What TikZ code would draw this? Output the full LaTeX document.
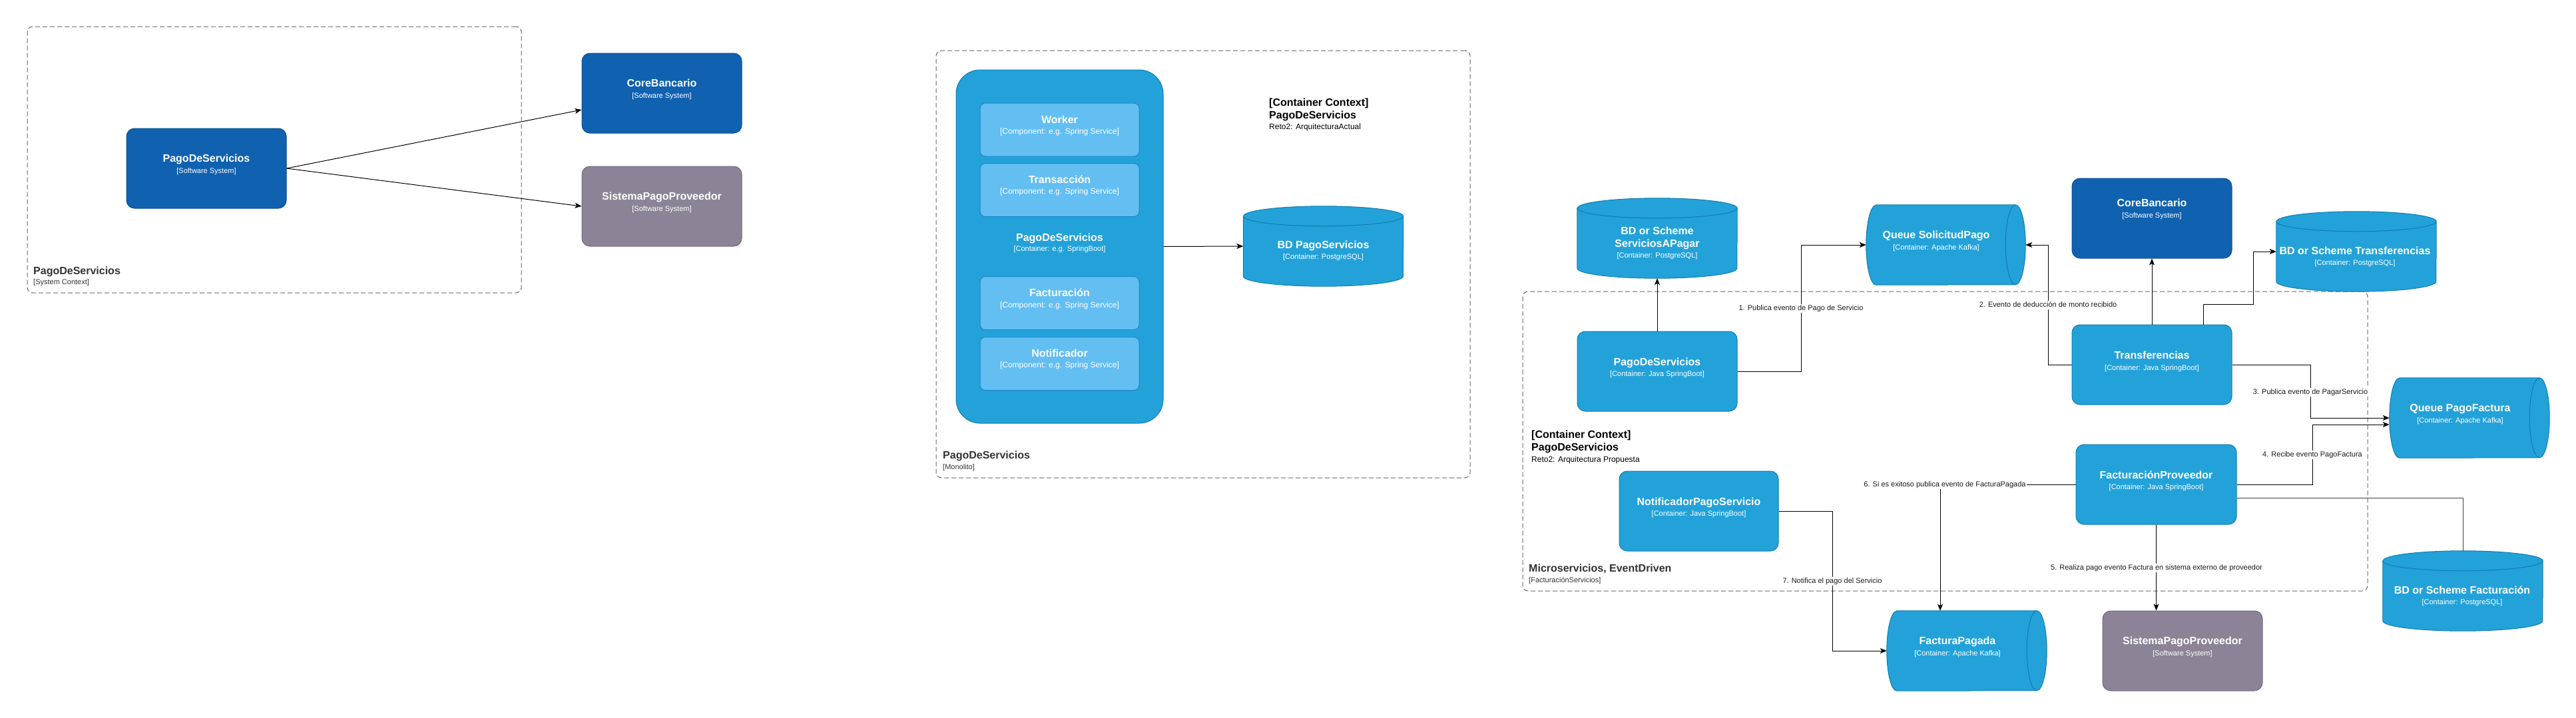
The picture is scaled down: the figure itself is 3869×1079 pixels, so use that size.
\documentclass[tikz,border=0pt]{standalone}
\usepackage{fontspec}
\setmainfont{Liberation Sans}
\usetikzlibrary{arrows.meta,calc}
\definecolor{sysblue}{HTML}{1061B0}
\definecolor{sysbluestroke}{HTML}{0D5091}
\definecolor{extgray}{HTML}{8C8496}
\definecolor{extgraystroke}{HTML}{736782}
\definecolor{contblue}{HTML}{23A2D9}
\definecolor{contstroke}{HTML}{0E7DAD}
\definecolor{compblue}{HTML}{63BEF2}
\definecolor{compstroke}{HTML}{2086C9}
\definecolor{bndgray}{HTML}{666666}
\newcommand\vcylshape[1]{%
 \path[cylsty] ($(#1.north west)+(0,-15)$) -- ($(#1.south west)+(0,15)$) arc[start angle=180,end angle=360,x radius=120,y radius=15] -- ($(#1.north east)+(0,-15)$) arc[start angle=0,end angle=180,x radius=120,y radius=15] -- cycle;
 \draw[cylline] ($(#1.north west)+(0,-15)$) arc[start angle=180,end angle=360,x radius=120,y radius=15];}
\newcommand\hcylshape[1]{%
 \path[cylsty] ($(#1.north west)+(15,0)$) -- ($(#1.north east)+(-15,0)$) arc[start angle=90,end angle=-90,x radius=15,y radius=60] -- ($(#1.south west)+(15,0)$) arc[start angle=270,end angle=90,x radius=15,y radius=60] -- cycle;
 \draw[cylline] ($(#1.north east)+(-15,0)$) arc[start angle=90,end angle=270,x radius=15,y radius=60];}
\begin{document}
\begin{tikzpicture}[x=1pt,y=1pt,
  boxbase/.style={rounded corners=12pt, minimum width=240pt, minimum height=120pt, inner sep=0pt, line width=1pt},
  sysnode/.style={boxbase, fill=sysblue, draw=sysbluestroke},
  extnode/.style={boxbase, fill=extgray, draw=extgraystroke},
  contnode/.style={boxbase, fill=contblue, draw=contstroke},
  compnode/.style={rounded corners=8pt, minimum width=239pt, minimum height=80pt, inner sep=0pt, fill=compblue, draw=compstroke, line width=1pt},
  cylanchor/.style={minimum width=240pt, minimum height=120pt, inner sep=0pt},
  cylsty/.style={fill=contblue, draw=contstroke, line width=1pt},
  cylline/.style={draw=contstroke, line width=1pt},
  ttl/.style={font=\bfseries\fontsize{16}{19}\selectfont, text=white, inner sep=0pt, text height=11.5pt, text depth=0pt},
  subtxt/.style={font=\fontsize{11}{13}\selectfont, text=white, inner sep=0pt, text height=8pt, text depth=0pt},
  subcomp/.style={font=\fontsize{12}{14}\selectfont, text=white, inner sep=0pt, text height=8.6pt, text depth=0pt},
  relarrow/.style={draw=black, line width=1pt, -{Stealth[length=10pt,width=8pt,inset=2.5pt]}},
  relplain/.style={draw=black!75, line width=1pt},
  rellbl/.style={fill=white, font=\fontsize{11}{13}\selectfont, text=black!90, inner sep=1.5pt, text height=8pt, text depth=2pt},
  bnd/.style={draw=bndgray, dash pattern=on 7pt off 4pt, line width=1pt, rounded corners=8pt, inner sep=0pt},
  bndttl/.style={font=\bfseries\fontsize{16}{19}\selectfont, text=black!80, inner sep=0pt, anchor=west, text height=11.5pt, text depth=0pt},
  bndsub/.style={font=\fontsize{11}{13}\selectfont, text=black!80, inner sep=0pt, anchor=west, text height=8pt, text depth=0pt},
  ctxttl/.style={font=\bfseries\fontsize{16}{19}\selectfont, text=black, inner sep=0pt, anchor=west, text height=11.5pt, text depth=0pt},
  ctxsub/.style={font=\fontsize{12}{14}\selectfont, text=black, inner sep=0pt, anchor=west, text height=8.6pt, text depth=0pt}
]
\fill[white] (0,0) rectangle (3869,-1079);
\useasboundingbox (0,0) rectangle (3869,-1079);

% ---------------- boundaries ----------------
\node[bnd, minimum width=742pt, minimum height=400pt] (b1) at (412,-240) {};
\node[bnd, minimum width=802pt, minimum height=642pt] (b2) at (1807,-397) {};
\node[bnd, minimum width=1269pt, minimum height=450pt] (b3) at (2921.5,-663) {};

\node[bndttl] (b1t) at (50,-407) {PagoDeServicios};
\node[bndsub] (b1s) at (50,-423) {[System Context]};
\node[bndttl] (b2t) at (1416,-684) {PagoDeServicios};
\node[bndsub] (b2s) at (1416,-701) {[Monolito]};
\node[bndttl] (b3t) at (2296,-854) {Microservicios, EventDriven};
\node[bndsub] (b3s) at (2296,-871) {[FacturaciónServicios]};

% ---------------- section 1 ----------------
\node[sysnode] (s1pago) at (310,-253) {};
\node[sysnode] (s1core) at (994,-140) {};
\node[extnode] (s1ext) at (994,-310) {};
\node[ttl] (s1pago-t) at (310,-238) {PagoDeServicios};
\node[subtxt] (s1pago-s) at (310,-256) {[Software System]};
\node[ttl] (s1core-t) at (994,-125) {CoreBancario};
\node[subtxt] (s1core-s) at (994,-143) {[Software System]};
\node[ttl] (s1ext-t) at (994,-295) {SistemaPagoProveedor};
\node[subtxt] (s1ext-s) at (994,-313) {[Software System]};
\draw[relarrow] (s1pago.east) -- ([yshift=-25pt]s1core.west);
\draw[relarrow] (s1pago.east) -- (s1ext.west);

% ---------------- section 2 ----------------
\node[contnode, rounded corners=36pt, minimum width=311pt, minimum height=531pt] (mono) at (1591.5,-370.5) {};
\node[compnode] (cworker) at (1591.5,-195) {};
\node[compnode] (ctrans) at (1591.5,-285.5) {};
\node[compnode] (cfact) at (1591.5,-455.5) {};
\node[compnode] (cnotif) at (1591.5,-546.5) {};
\node[ttl] (cworker-t) at (1591.5,-180) {Worker};
\node[subcomp] (cworker-s) at (1591.5,-197) {[Component: e.g. Spring Service]};
\node[ttl] (ctrans-t) at (1591.5,-270) {Transacción};
\node[subcomp] (ctrans-s) at (1591.5,-287) {[Component: e.g. Spring Service]};
\node[ttl] (mono-t) at (1591.5,-357) {PagoDeServicios};
\node[subtxt] (mono-s) at (1591.5,-373) {[Container: e.g. SpringBoot]};
\node[ttl] (cfact-t) at (1591.5,-440) {Facturación};
\node[subcomp] (cfact-s) at (1591.5,-458) {[Component: e.g. Spring Service]};
\node[ttl] (cnotif-t) at (1591.5,-531) {Notificador};
\node[subcomp] (cnotif-s) at (1591.5,-548) {[Component: e.g. Spring Service]};

\node[cylanchor] (bdps) at (1987.5,-370) {};
\vcylshape{bdps}
\node[ttl] (bdps-t) at (1987.5,-368) {BD PagoServicios};
\node[subtxt] (bdps-s) at (1987.5,-385) {[Container: PostgreSQL]};
\draw[relarrow] (mono.east) -- (bdps.west);

\node[ctxttl] (c2a) at (1906,-154) {[Container Context]};
\node[ctxttl] (c2b) at (1906,-173) {PagoDeServicios};
\node[ctxsub] (c2c) at (1906,-190) {Reto2: ArquitecturaActual};

% ---------------- section 3 ----------------
\node[cylanchor] (sapagar) at (2489,-358) {};
\vcylshape{sapagar}
\node[ttl] (sapagar-t1) at (2489,-347) {BD or Scheme};
\node[ttl] (sapagar-t2) at (2489,-366) {ServiciosAPagar};
\node[subtxt] (sapagar-s) at (2489,-383) {[Container: PostgreSQL]};

\node[cylanchor, minimum width=239pt] (qsol) at (2922.5,-368) {};
\hcylshape{qsol}
\node[ttl] (qsol-t) at (2908,-353) {Queue SolicitudPago};
\node[subtxt] (qsol-s) at (2908,-371) {[Container: Apache Kafka]};

\node[sysnode] (core3) at (3232,-328) {};
\node[ttl] (core3-t) at (3232,-305) {CoreBancario};
\node[subtxt] (core3-s) at (3232,-323) {[Software System]};

\node[cylanchor] (bdtrans) at (3539,-378) {};
\vcylshape{bdtrans}
\node[ttl] (bdtrans-t) at (3537,-377) {BD or Scheme Transferencias};
\node[subtxt] (bdtrans-s) at (3537,-394) {[Container: PostgreSQL]};

\node[contnode] (pago3) at (2489,-558) {};
\node[ttl] (pago3-t) at (2489,-544) {PagoDeServicios};
\node[subtxt] (pago3-s) at (2489,-561) {[Container: Java SpringBoot]};

\node[contnode] (transf) at (3232,-548) {};
\node[ttl] (transf-t) at (3232,-534) {Transferencias};
\node[subtxt] (transf-s) at (3232,-552) {[Container: Java SpringBoot]};

\node[cylanchor] (qpf) at (3709,-628) {};
\hcylshape{qpf}
\node[ttl] (qpf-t) at (3695,-613) {Queue PagoFactura};
\node[subtxt] (qpf-s) at (3695,-631) {[Container: Apache Kafka]};

\node[contnode, minimum width=241pt] (factprov) at (3238.5,-728) {};
\node[ttl] (factprov-t) at (3238.5,-714) {FacturaciónProveedor};
\node[subtxt] (factprov-s) at (3238.5,-731) {[Container: Java SpringBoot]};

\node[contnode, minimum width=239pt] (notif3) at (2551.5,-768) {};
\node[ttl] (notif3-t) at (2551.5,-754) {NotificadorPagoServicio};
\node[subtxt] (notif3-s) at (2551.5,-771) {[Container: Java SpringBoot]};

\node[cylanchor] (bdfact) at (3699,-888) {};
\vcylshape{bdfact}
\node[ttl] (bdfact-t) at (3698,-887) {BD or Scheme Facturación};
\node[subtxt] (bdfact-s) at (3698,-904) {[Container: PostgreSQL]};

\node[cylanchor] (fpag) at (2954,-978) {};
\hcylshape{fpag}
\node[ttl] (fpag-t) at (2940,-963) {FacturaPagada};
\node[subtxt] (fpag-s) at (2940,-981) {[Container: Apache Kafka]};

\node[extnode] (ext3) at (3278,-978) {};
\node[ttl] (ext3-t) at (3278,-963) {SistemaPagoProveedor};
\node[subtxt] (ext3-s) at (3278,-981) {[Software System]};

\node[ctxttl] (c3a) at (2300,-653) {[Container Context]};
\node[ctxttl] (c3b) at (2300,-672) {PagoDeServicios};
\node[ctxsub] (c3c) at (2300,-690) {Reto2: Arquitectura Propuesta};

% connectors
\draw[relarrow] (pago3.north) -- (sapagar.south);
\draw[relarrow] (pago3.east) -- ++(96,0) |- (qsol.west);
\draw[relarrow] (transf.west) -- ++(-35,0) |- (qsol.east);
\draw[relarrow] (transf.north) -- (core3.south);
\draw[relarrow] ([xshift=77pt]transf.north) -- ++(0,30) -| ($(bdtrans.west)+(-34,0)$) -- (bdtrans.west);
\draw[relarrow] (transf.east) -- ++(118,0) |- (qpf.west);
\draw[relarrow] (factprov.east) -- ++(114,0) |- ([yshift=-10pt]qpf.west);
\draw[relplain] ([yshift=-20pt]factprov.east) -| (bdfact.north);
\draw[relarrow] (factprov.south) -- (factprov.south |- ext3.north);
\draw[relarrow] (factprov.west) -| ([xshift=-40pt]fpag.north);
\draw[relarrow] (notif3.east) -- ++(81,0) |- (fpag.west);

% connector labels
\node[rellbl] (l1) at (2705,-463) {1. Publica evento de Pago de Servicio};
\node[rellbl] (l2) at (3076,-458) {2. Evento de deducción de monto recibido};
\node[rellbl] (l3) at (3470,-589) {3. Publica evento de PagarServicio};
\node[rellbl] (l4) at (3473,-683) {4. Recibe evento PagoFactura};
\node[rellbl] (l5) at (3239,-853) {5. Realiza pago evento Factura en sistema externo de proveedor};
\node[rellbl] (l6) at (2921,-728) {6. Si es exitoso publica evento de FacturaPagada};
\node[rellbl] (l7) at (2752,-873) {7. Notifica el pago del Servicio};
\end{tikzpicture}
\end{document}
